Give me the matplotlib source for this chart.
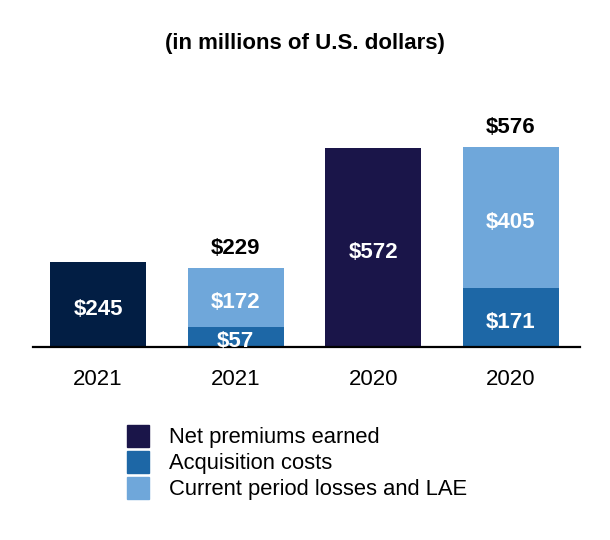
import matplotlib
matplotlib.use("Agg")
import matplotlib.pyplot as plt
from matplotlib.patches import Rectangle
from matplotlib.transforms import offset_copy

plt.rcParams['font.family'] = ['Liberation Sans', 'DejaVu Sans']

categories = ["2021", "2021", "2020", "2020"]
net_premiums = [245, 0, 572, 0]
acquisition = [0, 57, 0, 171]
losses = [0, 172, 0, 405]
totals = [None, 229, None, 576]
title = "(in millions of U.S. dollars)"
legend_labels = ["Net premiums earned", "Acquisition costs", "Current period losses and LAE"]

npe_colors = ["#021E44", "#021E44", "#1A1549", "#1A1549"]
c_acq = "#1D67A6"
c_loss = "#6FA7DA"
c_legend_npe = "#1A1549"

W, H = 610, 540
fig = plt.figure(figsize=(W / 100, H / 100), dpi=100)
ax_left, ax_right = 33, 580
ax_base, ax_top = 347, 104
ax = fig.add_axes([ax_left / W, (H - ax_base) / H, (ax_right - ax_left) / W, (ax_base - ax_top) / H])

x = list(range(len(categories)))
bw = 0.70
ax.bar(x, net_premiums, width=bw, color=npe_colors, zorder=2)
ax.bar(x, acquisition, width=bw, color=c_acq, zorder=2)
ax.bar(x, losses, width=bw, bottom=acquisition, color=c_loss, zorder=2)

# labels shifted slightly down (in points)
inner_tr = offset_copy(ax.transData, fig=fig, x=0, y=-3.5, units="points")
top_tr = offset_copy(ax.transData, fig=fig, x=0, y=-1.5, units="points")
lbl_kw = dict(ha="center", va="center", color="white", fontsize=16, fontweight="bold",
              zorder=5, transform=inner_tr)
for i in x:
    if net_premiums[i]:
        ax.text(i, net_premiums[i] / 2, f"${net_premiums[i]}", **lbl_kw)
    if acquisition[i]:
        ax.text(i, acquisition[i] / 2, f"${acquisition[i]}", **lbl_kw)
    if losses[i]:
        ax.text(i, acquisition[i] + losses[i] / 2, f"${losses[i]}", **lbl_kw)
    if totals[i] is not None:
        ax.text(i, acquisition[i] + losses[i] + 62, f"${totals[i]}", ha="center", va="center",
                color="black", fontsize=16, fontweight="bold", transform=top_tr)

ax.set_xlim(-0.474, 3.504)
ax.set_ylim(0, 700)
for s in ["top", "right", "left"]:
    ax.spines[s].set_visible(False)
ax.spines["bottom"].set_linewidth(1.6)
ax.spines["bottom"].set_zorder(4)
ax.set_yticks([])
ax.set_xticks(x)
ax.set_xticklabels(categories, fontsize=16)
ax.tick_params(axis="x", length=0, pad=16)

fig.text(305 / W, 1 - 43 / H, title, ha="center", va="center", fontsize=16, fontweight="bold")

colors_leg = [c_legend_npe, c_acq, c_loss]
for k, (lab, c) in enumerate(zip(legend_labels, colors_leg)):
    yc = 436 + 26 * k
    fig.add_artist(Rectangle((127 / W, 1 - (yc + 11) / H), 22 / W, 22 / H,
                             transform=fig.transFigure, color=c))
    fig.text(169 / W, 1 - (yc + 1) / H, lab, ha="left", va="center", fontsize=15.8)

fig.savefig("out.png", dpi=100)
